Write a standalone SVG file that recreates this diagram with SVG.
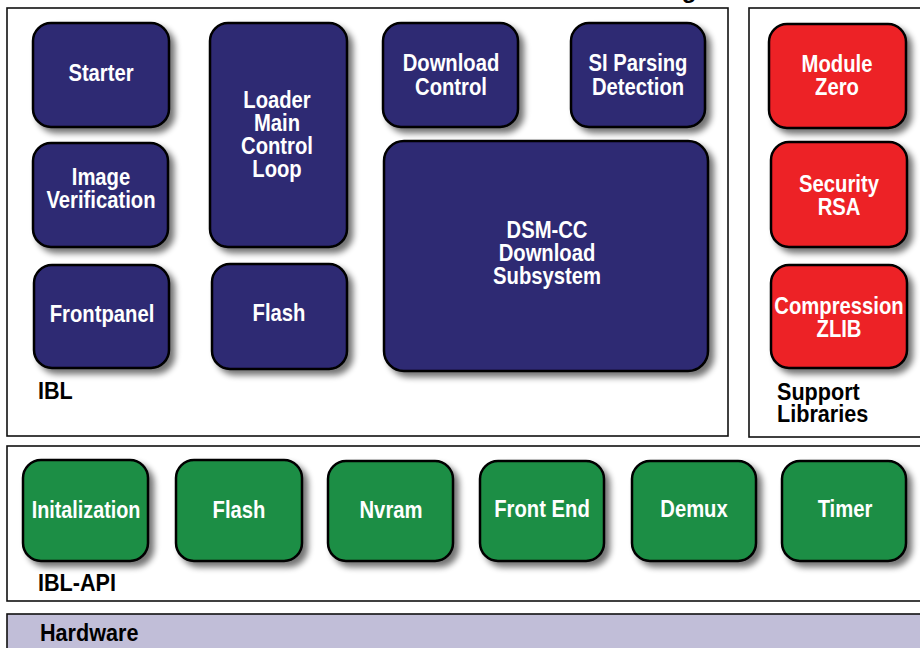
<svg xmlns="http://www.w3.org/2000/svg" width="920" height="648" viewBox="0 0 920 648">
<defs>
<filter id="sh" x="-20%" y="-20%" width="150%" height="150%">
<feGaussianBlur in="SourceAlpha" stdDeviation="3"/>
<feOffset dx="5" dy="5" result="b"/>
<feComponentTransfer><feFuncA type="linear" slope="0.55"/></feComponentTransfer>
<feMerge><feMergeNode/><feMergeNode in="SourceGraphic"/></feMerge>
</filter>
</defs>
<style>
.cont{fill:#fff;stroke:#111;stroke-width:1.6}
.hw{fill:#c1bed8;stroke:#111;stroke-width:1.6}
.box{stroke:#000;stroke-width:2.5;filter:url(#sh)}
.blue{fill:#2d2a73}
.red{fill:#ed2227}
.green{fill:#1b8e45}
.t{font-family:"Liberation Sans",Arial,sans-serif;font-weight:bold;font-size:23px;fill:#fff;text-anchor:middle}
.lbl{font-family:"Liberation Sans",Arial,sans-serif;font-weight:bold;font-size:24px;fill:#000}
</style>
<rect width="920" height="648" fill="#fff"/>
<text class="lbl" x="689" y="-2" font-size="28" text-anchor="middle">g</text>
<g id="containers">
<g id="ibl"><rect class="cont" x="7" y="8" width="721" height="428"/><text class="lbl" transform="translate(38,399) scale(0.9,1)">IBL</text></g>
<g id="support"><rect class="cont" x="749" y="8" width="190" height="429"/><text class="lbl" transform="translate(777,400) scale(0.9,1)">Support</text><text class="lbl" transform="translate(777,422) scale(0.9,1)">Libraries</text></g>
<g id="iblapi"><rect class="cont" x="7" y="446" width="932" height="155"/><text class="lbl" transform="translate(38,591) scale(0.9,1)">IBL-API</text></g>
<g id="hardware"><rect class="hw" x="7" y="614" width="932" height="50"/><text class="lbl" transform="translate(40,641) scale(0.9,1)">Hardware</text></g>
</g>
<g id="nodes">
<g id="starter"><rect class="box blue" x="33" y="23" width="136" height="104" rx="18"/><text class="t" transform="translate(101,81) scale(0.88,1)">Starter</text></g>
<g id="imgver"><rect class="box blue" x="33" y="143" width="135" height="104" rx="18"/><text class="t" transform="translate(101,185) scale(0.88,1)">Image</text><text class="t" transform="translate(101,208) scale(0.88,1)">Verification</text></g>
<g id="frontpanel"><rect class="box blue" x="34" y="265" width="135" height="103" rx="18"/><text class="t" transform="translate(102,322) scale(0.88,1)">Frontpanel</text></g>
<g id="loader"><rect class="box blue" x="210" y="23" width="137" height="224" rx="18"/><text class="t" transform="translate(277,108) scale(0.88,1)">Loader</text><text class="t" transform="translate(277,131) scale(0.88,1)">Main</text><text class="t" transform="translate(277,154) scale(0.88,1)">Control</text><text class="t" transform="translate(277,177) scale(0.88,1)">Loop</text></g>
<g id="flash1"><rect class="box blue" x="212" y="264" width="135" height="105" rx="18"/><text class="t" transform="translate(279,321) scale(0.88,1)">Flash</text></g>
<g id="dlctl"><rect class="box blue" x="383" y="23" width="135" height="104" rx="18"/><text class="t" transform="translate(451,71) scale(0.88,1)">Download</text><text class="t" transform="translate(451,95) scale(0.88,1)">Control</text></g>
<g id="siparse"><rect class="box blue" x="571" y="23" width="134" height="104" rx="18"/><text class="t" transform="translate(638,71) scale(0.88,1)">SI Parsing</text><text class="t" transform="translate(638,95) scale(0.88,1)">Detection</text></g>
<g id="dsmcc"><rect class="box blue" x="384" y="141" width="324" height="230" rx="20"/><text class="t" transform="translate(547,238) scale(0.88,1)">DSM-CC</text><text class="t" transform="translate(547,261) scale(0.88,1)">Download</text><text class="t" transform="translate(547,284) scale(0.88,1)">Subsystem</text></g>
<g id="modzero"><rect class="box red" x="769" y="24" width="137" height="104" rx="18"/><text class="t" transform="translate(837,72) scale(0.88,1)">Module</text><text class="t" transform="translate(837,95) scale(0.88,1)">Zero</text></g>
<g id="rsa"><rect class="box red" x="771" y="142" width="136" height="105" rx="18"/><text class="t" transform="translate(839,192) scale(0.88,1)">Security</text><text class="t" transform="translate(839,215) scale(0.88,1)">RSA</text></g>
<g id="zlib"><rect class="box red" x="771" y="265" width="136" height="103" rx="18"/><text class="t" transform="translate(839,314) scale(0.88,1)">Compression</text><text class="t" transform="translate(839,337) scale(0.88,1)">ZLIB</text></g>
<g id="init"><rect class="box green" x="23" y="460" width="125" height="101" rx="18"/><text class="t" transform="translate(86,518) scale(0.86,1)">Initalization</text></g>
<g id="flash2"><rect class="box green" x="176" y="460" width="126" height="101" rx="18"/><text class="t" transform="translate(239,518) scale(0.88,1)">Flash</text></g>
<g id="nvram"><rect class="box green" x="328" y="461" width="125" height="100" rx="18"/><text class="t" transform="translate(391,518) scale(0.88,1)">Nvram</text></g>
<g id="frontend"><rect class="box green" x="480" y="461" width="124" height="100" rx="18"/><text class="t" transform="translate(542,517) scale(0.88,1)">Front End</text></g>
<g id="demux"><rect class="box green" x="632" y="461" width="124" height="100" rx="18"/><text class="t" transform="translate(694,517) scale(0.88,1)">Demux</text></g>
<g id="timer"><rect class="box green" x="782" y="461" width="124" height="100" rx="18"/><text class="t" transform="translate(845,517) scale(0.88,1)">Timer</text></g>
</g>
</svg>
